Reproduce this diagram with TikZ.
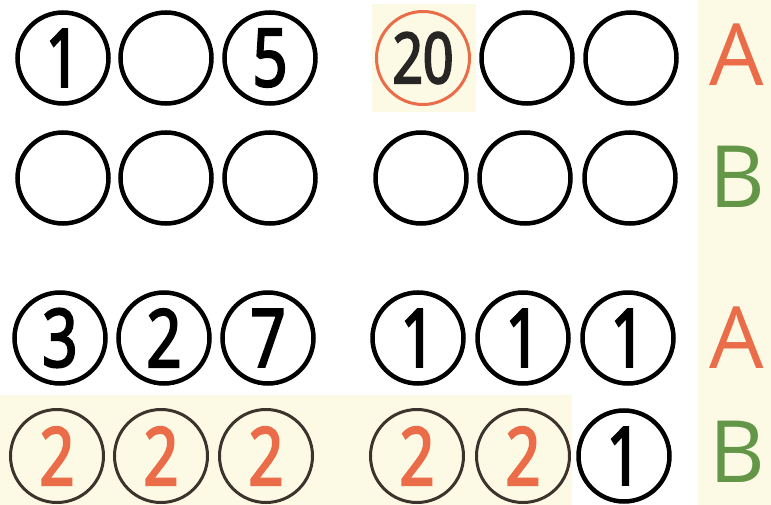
\documentclass[tikz,border=0pt]{standalone}
\usepackage{fontspec}
\setmainfont{Open Sans}
\newfontfamily\digitfont[FakeStretch=0.76,FakeBold=3]{Open Sans}
\definecolor{cream}{RGB}{252,250,229}
\definecolor{redorange}{RGB}{234,108,72}
\definecolor{leafgreen}{RGB}{100,150,72}
\definecolor{rimgrey}{RGB}{58,52,44}
\definecolor{inkgrey}{RGB}{40,38,36}
\tikzset{
  ring/.style={circle,draw,line width=4.5pt,minimum size=91pt,inner sep=0pt,
    font=\digitfont\fontsize{80}{82}\selectfont},
  thinring/.style={ring,line width=3pt,minimum size=93pt},
  rowletter/.style={inner sep=0pt,font=\fontsize{86}{88}\selectfont}
}

\begin{document}
\begin{tikzpicture}[x=1pt,y=-1pt]
\def\ya{58};
\def\yb{178};
\def\yc{338};
\def\yd{456};
\useasboundingbox (0,0) rectangle (771,505);
% cream paper patches
\fill[cream] (698,0) rectangle (771,505);
\fill[cream] (0,395) rectangle (572,505);
\fill[cream] (372,4) rectangle (476,112);
% first task, row A
\node[ring] (a1) at (63,\ya) {1};
\node[ring] (a2) at (166,\ya) {};
\node[ring] (a3) at (270,\ya) {5};
\node[thinring,draw=redorange,text=inkgrey,
  font=\digitfont\fontsize{70}{72}\selectfont] (a4) at (423,\ya) {20};
\node[ring] (a5) at (527,\ya) {};
\node[ring] (a6) at (631,\ya) {};
% first task, row B
\node[ring] (b1) at (63,\yb) {};
\node[ring] (b2) at (166,\yb) {};
\node[ring] (b3) at (270,\yb) {};
\node[ring] (b4) at (421,\yb) {};
\node[ring] (b5) at (525,\yb) {};
\node[ring] (b6) at (630,\yb) {};
% second task, row A
\node[ring] (c1) at (60,\yc) {3};
\node[ring] (c2) at (164,\yc) {2};
\node[ring] (c3) at (268,\yc) {7};
\node[ring] (c4) at (418,\yc) {1};
\node[ring] (c5) at (523,\yc) {1};
\node[ring] (c6) at (628,\yc) {1};
% second task, row B
\foreach \i/\x in {1/57,2/161,3/266,4/417,5/523}
  \node[thinring,draw=rimgrey,text=redorange] (d\i) at (\x,\yd) {2};
\node[ring] (d6) at (624,\yd) {1};
% row names
\node[rowletter,text=redorange] (la) at (737,55) {A};
\node[rowletter,text=leafgreen] (lb) at (737,177) {B};
\node[rowletter,text=redorange] (lc) at (737,338) {A};
\node[rowletter,text=leafgreen] (ld) at (737,452) {B};
\end{tikzpicture}
\end{document}
